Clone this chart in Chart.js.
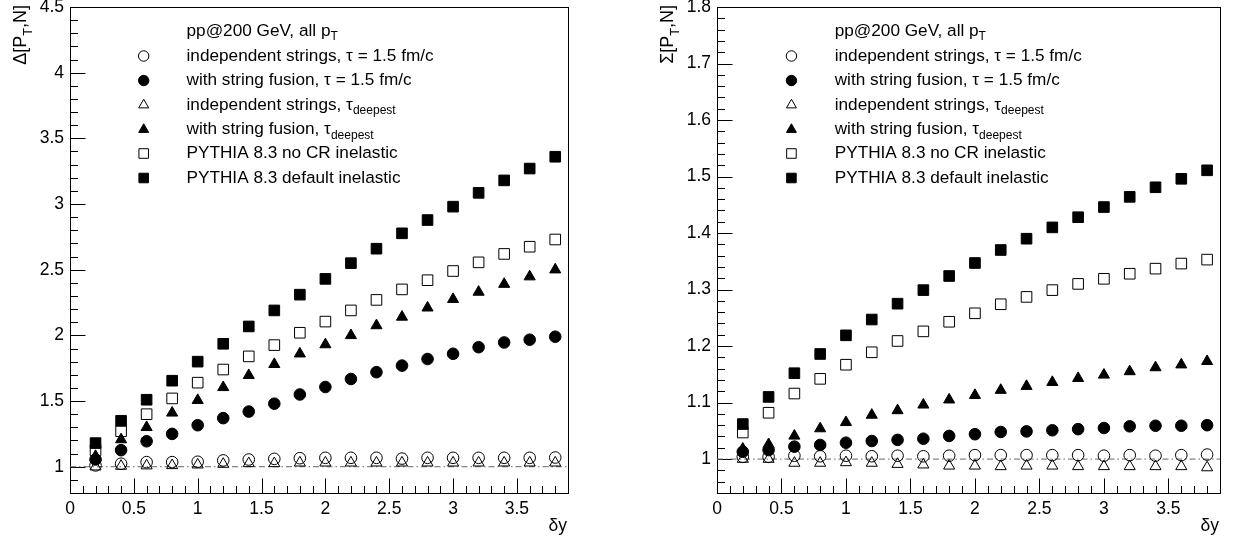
<!DOCTYPE html>
<html>
<head>
<meta charset="utf-8">
<script src="https://cdn.jsdelivr.net/npm/chart.js@4.4.1/dist/chart.umd.min.js"></script>
<style>
  html, body { margin: 0; padding: 0; background: #fff; }
  #wrap { position: relative; width: 1233px; height: 543px; overflow: hidden; }
  canvas { position: absolute; top: 0; }
</style>
</head>
<body>
<div id="wrap">
  <canvas id="left" width="616" height="543" style="left:0"></canvas>
  <canvas id="right" width="617" height="543" style="left:616px"></canvas>
</div>
<script>
// rapidity gap, same for every series
const dy = [0.2, 0.4, 0.6, 0.8, 1.0, 1.2, 1.4, 1.6, 1.8, 2.0, 2.2, 2.4, 2.6, 2.8, 3.0, 3.2, 3.4, 3.6, 3.8];

const seriesNames = [
  'independent strings, \u03C4 = 1.5 fm/c',
  'with string fusion, \u03C4 = 1.5 fm/c',
  'independent strings, \u03C4_{deepest}',
  'with string fusion, \u03C4_{deepest}',
  'PYTHIA 8.3 no CR inelastic',
  'PYTHIA 8.3 default inelastic'
];
const header = 'pp@200 GeV, all p_{T}';

// Delta[PT,N]
const deltaIndepTau  = [1.01, 1.023, 1.035, 1.035, 1.038, 1.048, 1.055, 1.06, 1.065, 1.068, 1.068, 1.068, 1.062, 1.068, 1.068, 1.068, 1.068, 1.068, 1.07];
const deltaFusionTau = [1.055, 1.126, 1.194, 1.25, 1.316, 1.37, 1.42, 1.48, 1.55, 1.607, 1.668, 1.72, 1.77, 1.82, 1.86, 1.91, 1.946, 1.967, 1.99];
const deltaIndepDeep = [1.0, 1.005, 1.008, 1.01, 1.015, 1.02, 1.025, 1.025, 1.03, 1.03, 1.03, 1.03, 1.03, 1.03, 1.03, 1.03, 1.03, 1.03, 1.03];
const deltaFusionDeep = [1.08, 1.207, 1.30, 1.41, 1.506, 1.604, 1.696, 1.78, 1.86, 1.93, 2.0, 2.075, 2.14, 2.21, 2.275, 2.33, 2.39, 2.447, 2.50];
const deltaPythiaNoCR = [1.126, 1.27, 1.40, 1.52, 1.64, 1.74, 1.84, 1.926, 2.02, 2.105, 2.19, 2.27, 2.35, 2.42, 2.49, 2.556, 2.62, 2.675, 2.73];
const deltaPythiaDef  = [1.18, 1.35, 1.51, 1.655, 1.80, 1.936, 2.068, 2.19, 2.31, 2.43, 2.55, 2.66, 2.777, 2.878, 2.98, 3.085, 3.18, 3.27, 3.36];

// Sigma[PT,N]
const sigmaIndepTau  = [1.004, 1.004, 1.006, 1.005, 1.006, 1.005, 1.006, 1.005, 1.006, 1.007, 1.007, 1.007, 1.007, 1.007, 1.006, 1.007, 1.006, 1.007, 1.008];
const sigmaFusionTau = [1.013, 1.016, 1.022, 1.025, 1.029, 1.032, 1.034, 1.036, 1.041, 1.044, 1.048, 1.049, 1.051, 1.053, 1.055, 1.058, 1.059, 1.059, 1.06];
const sigmaIndepDeep = [1.0, 1.0, 0.993, 0.993, 0.994, 0.993, 0.991, 0.99, 0.988, 0.988, 0.987, 0.988, 0.988, 0.987, 0.987, 0.987, 0.987, 0.987, 0.985];
const sigmaFusionDeep = [1.018, 1.026, 1.041, 1.054, 1.065, 1.078, 1.086, 1.096, 1.105, 1.113, 1.122, 1.129, 1.136, 1.143, 1.149, 1.155, 1.162, 1.167, 1.173];
const sigmaPythiaNoCR = [1.047, 1.082, 1.116, 1.142, 1.167, 1.189, 1.209, 1.226, 1.243, 1.258, 1.274, 1.287, 1.299, 1.31, 1.319, 1.328, 1.337, 1.346, 1.353];
const sigmaPythiaDef  = [1.062, 1.11, 1.152, 1.186, 1.219, 1.247, 1.275, 1.299, 1.324, 1.347, 1.37, 1.39, 1.41, 1.428, 1.446, 1.464, 1.481, 1.496, 1.511];

// tick labels
const xTicks = [0, 0.5, 1, 1.5, 2, 2.5, 3, 3.5];
const deltaTicks = [1, 1.5, 2, 2.5, 3, 3.5, 4, 4.5];
const sigmaTicks = [1, 1.1, 1.2, 1.3, 1.4, 1.5, 1.6, 1.7, 1.8];

const FONT = '"Liberation Sans", Arial, Helvetica, sans-serif';
const font = s => s + 'px ' + FONT;

const markers = [
  { style: 'circle', r: 5.8, filled: false },
  { style: 'circle', r: 5.8, filled: true },
  { style: 'triangle', r: 6.4, filled: false },
  { style: 'triangle', r: 6.4, filled: true },
  { style: 'rect', r: 7.5, filled: false },
  { style: 'rect', r: 7.5, filled: true }
];

// text with _{sub} pieces
function drawRich(ctx, str, x, y, size, align) {
  const parts = [];
  const re = /_\{([^}]*)\}/g;
  let last = 0, m;
  while ((m = re.exec(str))) {
    if (m.index > last) parts.push({ t: str.slice(last, m.index), sub: false });
    parts.push({ t: m[1], sub: true });
    last = re.lastIndex;
  }
  if (last < str.length) parts.push({ t: str.slice(last), sub: false });
  const widths = parts.map(p => { ctx.font = font(p.sub ? size * 0.7 : size); return ctx.measureText(p.t).width; });
  const total = widths.reduce((a, b) => a + b, 0);
  let cx = align === 'right' ? x - total : x;
  ctx.textAlign = 'left';
  parts.forEach((p, i) => {
    ctx.font = font(p.sub ? size * 0.7 : size);
    ctx.fillText(p.t, cx, p.sub ? y + size * 0.35 : y);
    cx += widths[i];
  });
}

const rootDecor = {
  id: 'rootDecor',
  beforeDatasetsDraw(chart, args, o) {
    const { ctx, chartArea: a, scales: { x, y } } = chart;
    ctx.save();
    ctx.strokeStyle = '#000';
    ctx.lineWidth = 1;
    const L = Math.round(a.left) + 0.5, R = Math.round(a.right) + 0.5;
    const T = Math.round(a.top) + 0.5, B = Math.round(a.bottom) + 0.5;
    ctx.strokeRect(L, T, R - L, B - T);
    ctx.beginPath();
    for (let i = 1; ; i++) {
      const v = +(i * o.xMinor).toFixed(5);
      if (v >= x.max - 1e-9) break;
      const px = Math.round(x.getPixelForValue(v)) + 0.5;
      const major = Math.abs(v / o.xMajor - Math.round(v / o.xMajor)) < 1e-6;
      ctx.moveTo(px, B);
      ctx.lineTo(px, B - (major ? 15 : 7.5));
    }
    const start = Math.ceil(y.min / o.yMinor - 1e-6);
    for (let i = start; ; i++) {
      const v = +(i * o.yMinor).toFixed(5);
      if (v >= y.max - 1e-9) break;
      if (v <= y.min + 1e-9) continue;
      const py = Math.round(y.getPixelForValue(v)) + 0.5;
      const major = Math.abs(v / o.yMajor - Math.round(v / o.yMajor)) < 1e-6;
      ctx.moveTo(L, py);
      ctx.lineTo(L + (major ? 15 : 7.5), py);
    }
    ctx.stroke();
    ctx.restore();
  },
  afterDraw(chart, args, o) {
    const { ctx, chartArea: a } = chart;
    ctx.save();
    ctx.fillStyle = '#000';
    ctx.textBaseline = 'alphabetic';
    // x title
    drawRich(ctx, '\u03B4y', a.right - 1, 531, 17.5, 'right');
    // y title, rotated, ends at top of frame
    ctx.save();
    ctx.translate(o.yTitleX, a.top - 2);
    ctx.rotate(-Math.PI / 2);
    drawRich(ctx, o.yTitle, 0, 0, 18, 'right');
    ctx.restore();
    // legend
    const w = a.right - a.left;
    const mx = a.left + 0.148 * w, tx = a.left + 0.234 * w;
    ctx.textBaseline = 'middle';
    drawRich(ctx, header, tx, o.rows[0], 17.2, 'left');
    markers.forEach((mk, i) => {
      const yy = o.rows[i + 1];
      ctx.strokeStyle = '#000';
      ctx.lineWidth = 1;
      ctx.fillStyle = mk.filled ? '#000' : 'rgba(0,0,0,0)';
      Chart.helpers.drawPoint(ctx, { pointStyle: mk.style, radius: mk.r * 0.9, rotation: 0, borderWidth: 1 }, mx, yy);
      ctx.fillStyle = '#000';
      drawRich(ctx, seriesNames[i], tx, yy, 17.2, 'left');
    });
    ctx.restore();
  }
};

function makePanel(id, series, yMin, yMax, yTicks, pad, deco) {
  const datasets = series.map((vals, i) => ({
    label: seriesNames[i],
    data: dy.map((v, k) => ({ x: v, y: vals[k] })),
    pointStyle: markers[i].style,
    pointRadius: markers[i].r,
    pointHoverRadius: markers[i].r,
    pointBackgroundColor: markers[i].filled ? '#000' : 'rgba(0,0,0,0)',
    pointBorderColor: '#000',
    pointBorderWidth: 1,
    showLine: false,
    order: 0
  }));
  datasets.push({
    label: 'unity',
    data: [{ x: 0, y: 1 }, { x: 3.9, y: 1 }],
    showLine: true,
    borderColor: '#666',
    borderWidth: 1,
    borderDash: [6, 3, 1.5, 3],
    pointRadius: 0,
    order: 10
  });
  const tickFont = { family: FONT, size: 17.5 };
  new Chart(document.getElementById(id), {
    type: 'scatter',
    data: { datasets },
    plugins: [rootDecor],
    options: {
      responsive: false,
      devicePixelRatio: 1,
      animation: false,
      events: [],
      layout: { padding: { top: pad.top, right: pad.right, left: 0, bottom: 0 }, autoPadding: false },
      plugins: { legend: { display: false }, tooltip: { enabled: false }, rootDecor: deco },
      scales: {
        x: {
          type: 'linear', min: 0, max: 3.9,
          afterBuildTicks: s => { s.ticks = xTicks.map(v => ({ value: v })); },
          afterFit: s => { s.height = pad.bottom; s.paddingLeft = 0; s.paddingRight = 0; },
          grid: { display: false, drawTicks: false },
          border: { display: false },
          ticks: { color: '#000', font: tickFont, padding: 6, maxRotation: 0, autoSkip: false,
                   callback: v => String(+v.toFixed(2)) }
        },
        y: {
          type: 'linear', min: yMin, max: yMax,
          afterBuildTicks: s => { s.ticks = yTicks.map(v => ({ value: v })); },
          afterFit: s => { s.width = pad.left; s.paddingTop = 0; s.paddingBottom = 0; },
          grid: { display: false, drawTicks: false },
          border: { display: false },
          ticks: { color: '#000', font: tickFont, padding: 6, autoSkip: false,
                   callback: v => String(+v.toFixed(2)) }
        }
      }
    }
  });
}

const rows = [31, 56, 80.5, 105, 129.5, 153.5, 178];

makePanel('left',
  [deltaIndepTau, deltaFusionTau, deltaIndepDeep, deltaFusionDeep, deltaPythiaNoCR, deltaPythiaDef],
  0.8, 4.5, deltaTicks,
  { top: 7, right: 48, bottom: 50, left: 70 },
  { xMinor: 0.1, xMajor: 0.5, yMinor: 0.1, yMajor: 0.5, yTitle: '\u0394[P_{T},N]', yTitleX: 26, rows });

makePanel('right',
  [sigmaIndepTau, sigmaFusionTau, sigmaIndepDeep, sigmaFusionDeep, sigmaPythiaNoCR, sigmaPythiaDef],
  0.94, 1.8, sigmaTicks,
  { top: 7, right: 13, bottom: 50, left: 101 },
  { xMinor: 0.1, xMajor: 0.5, yMinor: 0.02, yMajor: 0.1, yTitle: '\u03A3[P_{T},N]', yTitleX: 57, rows });
</script>
</body>
</html>
